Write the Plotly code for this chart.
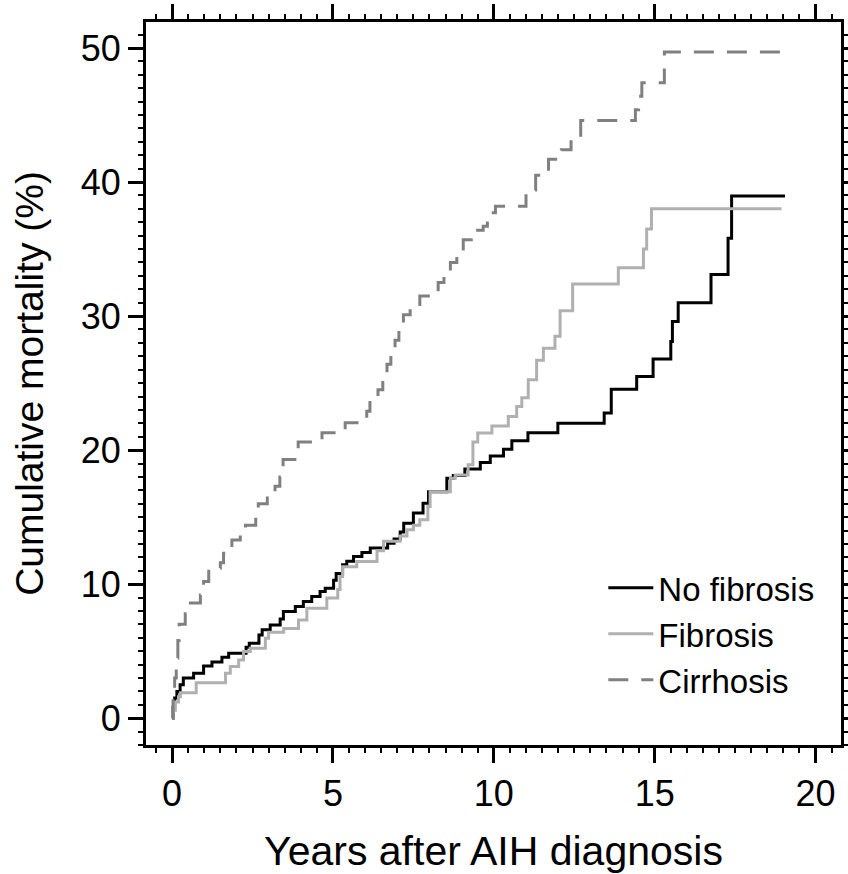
import plotly.graph_objects as go

# ---- data (years after diagnosis, cumulative mortality %) ----
nofib_t = [0, 0.03, 0.08, 0.15, 0.25, 0.35, 0.67, 0.98, 1.24, 1.55, 1.76, 2.3, 2.4, 2.7, 2.8,
           3.05, 3.36, 3.46, 3.83, 4.08, 4.34, 4.6, 4.76, 5.02, 5.1, 5.3, 5.43, 5.64, 5.9, 6.16,
           6.7, 6.9, 7.09, 7.2, 7.5, 7.8, 7.97, 8.54, 8.74, 9.1, 9.58, 9.89, 10.3, 10.56, 11.06,
           11.99, 13.43, 13.65, 14.44, 14.95, 15.5, 15.55, 15.73, 16.75, 17.28, 17.39, 19.05]
nofib_v = [0, 0.8, 1.5, 2.0, 2.5, 3.0, 3.36, 3.9, 4.2, 4.55, 4.85, 5.3, 5.6, 6.2, 6.6,
           6.96, 7.4, 7.96, 8.33, 8.7, 9.07, 9.45, 9.7, 10.3, 10.8, 11.44, 11.7, 12.06, 12.36, 12.69,
           13.06, 13.36, 13.9, 14.55, 15.3, 16.04, 16.9, 17.9, 18.1, 18.6, 19.07, 19.57, 20.07, 20.7, 21.3,
           22.0, 22.76, 24.55, 25.5, 26.8, 28.1, 29.6, 31.0, 33.1, 35.8, 38.96, 38.96]

fib_t = [0, 0.03, 0.1, 0.2, 0.26, 0.75, 1.66, 1.81, 2.07, 2.22, 2.43, 2.9, 3.0, 3.47, 3.93,
         4.19, 4.81, 5.15, 5.22, 5.3, 5.74, 6.37, 6.57, 7.09, 7.3, 7.5, 7.7, 7.95, 8.02, 8.65,
         8.8, 9.2, 9.35, 9.5, 9.94, 10.45, 10.71, 10.87, 11.07, 11.33, 11.54, 11.9, 12.06, 12.45, 13.87,
         14.65, 14.75, 14.9, 18.94]
fib_v = [0, 0.6, 1.2, 1.6, 1.9, 2.65, 3.36, 3.85, 4.35, 4.97, 5.22, 5.97, 6.42, 6.7, 7.33,
         8.2, 8.96, 9.6, 10.57, 11.3, 11.69, 12.5, 13.2, 13.6, 14.05, 14.4, 14.8, 15.8, 16.9, 17.9,
         18.15, 18.9, 20.6, 21.27, 21.8, 22.5, 23.25, 23.9, 25.25, 26.7, 27.6, 28.5, 30.4, 32.4, 33.6,
         35.0, 36.5, 38.0, 38.0]

cirr_t = [0, 0.03, 0.08, 0.13, 0.18, 0.22, 0.41, 0.57, 0.88, 0.98, 1.14, 1.5, 1.6, 1.86, 2.12,
          2.28, 2.6, 2.68, 2.96, 3.2, 3.35, 3.45, 3.92, 4.66, 5.38, 6.05, 6.15, 6.4, 6.55, 6.68,
          6.8, 6.93, 7.05, 7.19, 7.4, 7.7, 8.1, 8.27, 8.45, 8.65, 8.85, 9.05, 9.3, 9.67, 9.8,
          10.05, 11.0, 11.3, 11.7, 12.1, 12.4, 12.7, 14.4, 14.5, 14.6, 15.3, 19.1]
cirr_v = [0, 1.5, 3.0, 4.5, 5.8, 7.0, 7.8, 8.6, 9.2, 10.2, 11.2, 11.6, 12.3, 13.3, 13.7,
          14.4, 15.0, 16.0, 16.7, 17.3, 18.0, 19.3, 20.6, 21.3, 22.05, 22.9, 23.7, 24.5, 25.4, 26.4,
          27.4, 28.2, 29.2, 30.1, 30.6, 31.5, 31.8, 32.5, 33.2, 34.0, 34.9, 35.7, 36.4, 36.7, 37.7,
          38.2, 39.4, 40.5, 41.7, 42.4, 43.2, 44.6, 45.4, 46.4, 47.4, 49.7, 49.7]

series_names = ["No fibrosis", "Fibrosis", "Cirrhosis"]
x_ticks = [0, 5, 10, 15, 20]
y_ticks = [0, 10, 20, 30, 40, 50]

FONT = "Liberation Sans, Arial, sans-serif"

fig = go.Figure()
fig.add_trace(go.Scatter(x=nofib_t, y=nofib_v, name=series_names[0], mode="lines",
                         line=dict(color="#000000", width=3, shape="hv")))
fig.add_trace(go.Scatter(x=fib_t, y=fib_v, name=series_names[1], mode="lines",
                         line=dict(color="#b0b0b0", width=3, shape="hv")))
fig.add_trace(go.Scatter(x=cirr_t, y=cirr_v, name=series_names[2], mode="lines",
                         line=dict(color="#808080", width=3, shape="hv", dash="20px,13px")))

axis_common = dict(
    showline=True, linewidth=3, linecolor="black", mirror="allticks",
    ticks="outside", ticklen=15, tickwidth=3, tickcolor="black",
    showgrid=False, zeroline=False, automargin=False,
    tickfont=dict(family=FONT, size=36, color="black"),
)

fig.update_xaxes(
    range=[-0.81, 20.79], tickvals=x_ticks,
    title=dict(text="Years after AIH diagnosis", font=dict(family=FONT, size=41, color="black"),
               standoff=26),
    minor=dict(ticks="outside", ticklen=5, tickwidth=2, tickcolor="black", dtick=0.5, showgrid=False),
    **axis_common,
)
fig.update_yaxes(
    range=[-2.0, 51.94], tickvals=y_ticks,
    title=dict(text="Cumulative mortality (%)", font=dict(family=FONT, size=39, color="black"),
               standoff=26),
    minor=dict(ticks="outside", ticklen=5, tickwidth=2, tickcolor="black", dtick=1, showgrid=False),
    **axis_common,
)

fig.update_layout(
    width=848, height=874,
    margin=dict(l=146, r=7, t=22, b=129),
    paper_bgcolor="white", plot_bgcolor="white",
    font=dict(family=FONT, color="black"),
    legend=dict(x=0.658, y=0.256, xanchor="left", yanchor="top",
                font=dict(family=FONT, size=33, color="black"),
                bgcolor="rgba(0,0,0,0)", borderwidth=0, itemwidth=45),
    showlegend=True,
)

fig.write_html("out.html")
